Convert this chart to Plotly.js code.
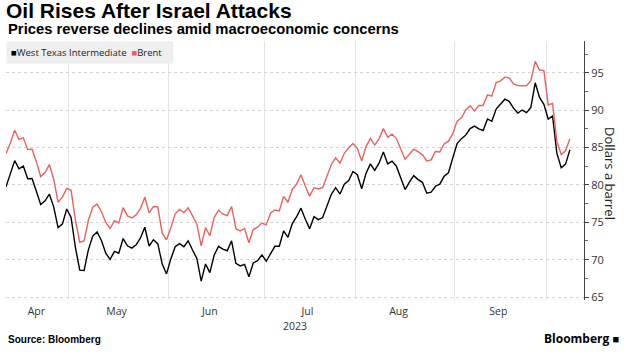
<!DOCTYPE html>
<html>
<head>
<meta charset="utf-8">
<script src="https://cdn.plot.ly/plotly-3.0.1.min.js"></script>
<style>html,body{margin:0;padding:0;background:#fff;}#chart{width:628px;height:356px;}</style>
</head>
<body>
<div id="chart"></div>
<script>
// Trading-day dates (weekdays), Apr 10 – Oct 9, 2023
const dates = [
  '2023-04-10','2023-04-11','2023-04-12','2023-04-13','2023-04-14','2023-04-17','2023-04-18','2023-04-19','2023-04-20','2023-04-21','2023-04-24','2023-04-25','2023-04-26','2023-04-27','2023-04-28',
  '2023-05-01','2023-05-02','2023-05-03','2023-05-04','2023-05-05','2023-05-08','2023-05-09','2023-05-10','2023-05-11','2023-05-12','2023-05-15','2023-05-16','2023-05-17','2023-05-18','2023-05-19','2023-05-22','2023-05-23','2023-05-24','2023-05-25','2023-05-26','2023-05-29','2023-05-30','2023-05-31',
  '2023-06-01','2023-06-02','2023-06-05','2023-06-06','2023-06-07','2023-06-08','2023-06-09','2023-06-12','2023-06-13','2023-06-14','2023-06-15','2023-06-16','2023-06-19','2023-06-20','2023-06-21','2023-06-22','2023-06-23','2023-06-26','2023-06-27','2023-06-28','2023-06-29','2023-06-30',
  '2023-07-03','2023-07-04','2023-07-05','2023-07-06','2023-07-07','2023-07-10','2023-07-11','2023-07-12','2023-07-13','2023-07-14','2023-07-17','2023-07-18','2023-07-19','2023-07-20','2023-07-21','2023-07-24','2023-07-25','2023-07-26','2023-07-27','2023-07-28','2023-07-31',
  '2023-08-01','2023-08-02','2023-08-03','2023-08-04','2023-08-07','2023-08-08','2023-08-09','2023-08-10','2023-08-11','2023-08-14','2023-08-15','2023-08-16','2023-08-17','2023-08-18','2023-08-21','2023-08-22','2023-08-23','2023-08-24','2023-08-25','2023-08-28','2023-08-29','2023-08-30','2023-08-31',
  '2023-09-01','2023-09-04','2023-09-05','2023-09-06','2023-09-07','2023-09-08','2023-09-11','2023-09-12','2023-09-13','2023-09-14','2023-09-15','2023-09-18','2023-09-19','2023-09-20','2023-09-21','2023-09-22','2023-09-25','2023-09-26','2023-09-27','2023-09-28','2023-09-29',
  '2023-10-02','2023-10-03','2023-10-04','2023-10-05','2023-10-06','2023-10-09'
];

// West Texas Intermediate, $/bbl
const wti = [
  79.74,81.53,83.26,82.16,82.52,80.83,80.86,79.16,77.37,77.87,78.76,77.07,74.30,74.76,76.78,
  75.66,71.66,68.60,68.56,71.34,73.16,73.71,72.56,70.87,70.04,71.11,70.86,72.83,71.86,71.55,71.99,72.91,74.34,71.83,72.67,72.10,69.46,68.09,
  70.10,71.74,72.15,71.74,72.53,71.29,70.17,67.12,69.42,68.27,70.62,71.78,71.40,71.19,72.53,69.51,69.16,69.37,67.70,69.56,69.86,70.64,
  69.79,70.80,71.79,71.80,73.86,72.99,74.83,75.75,76.89,75.42,74.15,75.75,75.35,75.63,77.07,78.74,79.63,78.78,80.09,80.58,81.80,
  81.37,79.49,81.55,82.82,81.94,82.92,84.40,82.82,83.19,82.51,80.99,79.38,80.39,81.25,80.72,80.35,78.89,79.05,79.83,80.10,81.16,81.63,83.63,
  85.55,86.20,86.69,87.54,87.87,87.51,87.29,88.84,88.52,90.16,90.77,91.48,91.20,90.28,89.63,90.03,89.68,90.39,93.68,91.71,90.79,
  88.82,89.23,84.22,82.31,82.79,84.70
];

// Brent, $/bbl
const brent = [
  84.18,85.61,87.33,86.09,86.31,84.76,84.77,83.12,81.10,81.66,82.73,80.77,77.69,78.37,79.54,
  79.31,75.32,72.33,72.50,75.30,77.01,77.44,76.41,74.98,74.17,75.23,74.91,76.96,75.86,75.58,75.99,76.84,78.36,76.26,77.12,77.07,73.54,72.66,
  74.28,76.13,76.71,76.29,76.95,75.96,74.79,71.84,74.29,73.20,75.67,76.61,76.09,75.90,77.12,74.14,73.85,74.18,72.26,74.03,74.34,74.90,
  74.65,76.25,76.65,76.52,78.47,77.69,79.40,80.11,81.36,79.87,78.50,79.63,79.46,79.64,81.07,82.74,83.64,82.92,84.24,84.99,85.56,
  84.91,83.20,85.14,86.24,85.34,86.17,87.55,86.40,86.81,86.21,84.89,83.45,84.12,84.80,84.46,84.03,83.21,83.36,84.48,84.42,85.49,85.86,86.86,
  88.55,89.00,90.04,90.60,89.92,90.65,90.64,92.06,91.88,93.70,93.93,94.43,94.34,93.53,93.30,93.27,93.29,93.96,96.55,95.38,95.31,
  90.71,90.92,85.81,84.07,84.58,86.20
];

const seriesNames = ['West Texas Intermediate', 'Brent'];
const seriesColors = ['#000000', '#e9625f'];

// Axis labels
const monthTickVals = ['2023-04-19','2023-05-15 12:00','2023-06-14','2023-07-14 12:00','2023-08-14 12:00','2023-09-14 12:00'];
const monthTickText = ['Apr','May','Jun','Jul','Aug','Sep'];
const monthGridVals = ['2023-04-28 12:00','2023-05-31 12:00','2023-06-30 12:00','2023-07-31 12:00','2023-08-31 12:00','2023-09-29 12:00'];
const yTickVals = [65,70,75,80,85,90,95];

const traces = [
  {x: dates, y: wti, name: seriesNames[0], type: 'scatter', mode: 'lines',
   line: {color: seriesColors[0], width: 1.4}, hoverinfo: 'x+y+name'},
  {x: dates, y: brent, name: seriesNames[1], type: 'scatter', mode: 'lines',
   line: {color: seriesColors[1], width: 1.4}, hoverinfo: 'x+y+name'}
];

const tickFont = {family: 'Open Sans, Noto Sans, sans-serif', size: 10.5, color: '#333'};

const layout = {
  width: 628, height: 356,
  margin: {l: 6, r: 44, t: 41, b: 56},
  paper_bgcolor: '#ffffff', plot_bgcolor: '#ffffff',
  showlegend: false,
  title: {
    text: '<b>Oil Rises After Israel Attacks</b>',
    font: {family: 'Liberation Sans, Arial, sans-serif', size: 21, color: '#000'},
    xref: 'container', x: 6/628, xanchor: 'left',
    yref: 'container', y: 1 - 11/356, yanchor: 'middle'
  },
  xaxis: {
    type: 'date',
    range: ['2023-04-10', '2023-10-12 06:00'],
    rangebreaks: [{bounds: ['sat', 'mon']}],
    tickmode: 'array', tickvals: monthTickVals, ticktext: monthTickText,
    showgrid: false, zeroline: false, showline: false, ticks: '',
    ticklabelstandoff: 3,
    tickfont: tickFont,
    minor: {tickmode: 'array', tickvals: monthGridVals, showgrid: true, gridcolor: '#e4e4e4', gridwidth: 1, ticks: ''}
  },
  yaxis: {
    side: 'right',
    range: [64.6, 99.27],
    tickmode: 'array', tickvals: yTickVals,
    showline: true, linecolor: '#444', linewidth: 1,
    ticks: 'outside', ticklen: 4, tickcolor: '#444', tickwidth: 1,
    showgrid: true, gridcolor: '#d4d4d4', griddash: 'dot', gridwidth: 1,
    zeroline: false,
    tickfont: {family: 'Open Sans, Noto Sans, sans-serif', size: 11, color: '#333'},
    minor: {dtick: 2.5, tick0: 65, ticks: 'outside', ticklen: 3, tickcolor: '#666', showgrid: false}
  },
  annotations: [
    {text: '<b>Prices reverse declines amid macroeconomic concerns</b>',
     xref: 'paper', x: 0, xanchor: 'left', yref: 'paper', y: 1 + (41 - 29) / 259, yanchor: 'middle',
     showarrow: false, font: {family: 'Liberation Sans, Arial, sans-serif', size: 14.8, color: '#000'}},
    {text: '<span style="color:' + seriesColors[0] + '">■</span>' + seriesNames[0] + '  <span style="color:' + seriesColors[1] + '">■</span>' + seriesNames[1],
     xref: 'paper', x: 0, xanchor: 'left', yref: 'paper', y: 1, yanchor: 'top',
     align: 'left', width: 158, bgcolor: '#efefef', borderpad: 4,
     showarrow: false, font: {family: 'Open Sans, Noto Sans, sans-serif', size: 9.5, color: '#222'}},
    {text: '2023', xref: 'paper', x: 0.5, xanchor: 'center', yref: 'paper', y: (300 - 326) / 259, yanchor: 'middle',
     showarrow: false, font: tickFont},
    {text: 'Dollars a barrel', xref: 'paper', x: 1 + (610 - 584) / 578, xanchor: 'center',
     yref: 'paper', y: (300 - 173) / 259, yanchor: 'middle', textangle: 90,
     showarrow: false, font: {family: 'Open Sans, Noto Sans, sans-serif', size: 13, color: '#222'}},
    {text: '<b>Source: Bloomberg</b>', xref: 'paper', x: 0, xanchor: 'left', yref: 'paper', y: (300 - 339) / 259, yanchor: 'middle',
     showarrow: false, font: {family: 'Liberation Sans, Arial, sans-serif', size: 10, color: '#000'}},
    {text: '<b>Bloomberg</b> <span style="font-size:11px">■</span>', xref: 'paper', x: 1 + (621 - 584) / 578, xanchor: 'right',
     yref: 'paper', y: (300 - 338) / 259, yanchor: 'middle',
     showarrow: false, font: {family: 'Open Sans, Noto Sans, sans-serif', size: 12, color: '#000'}}
  ]
};

Plotly.newPlot('chart', traces, layout, {displayModeBar: false, staticPlot: true});
</script>
</body>
</html>
